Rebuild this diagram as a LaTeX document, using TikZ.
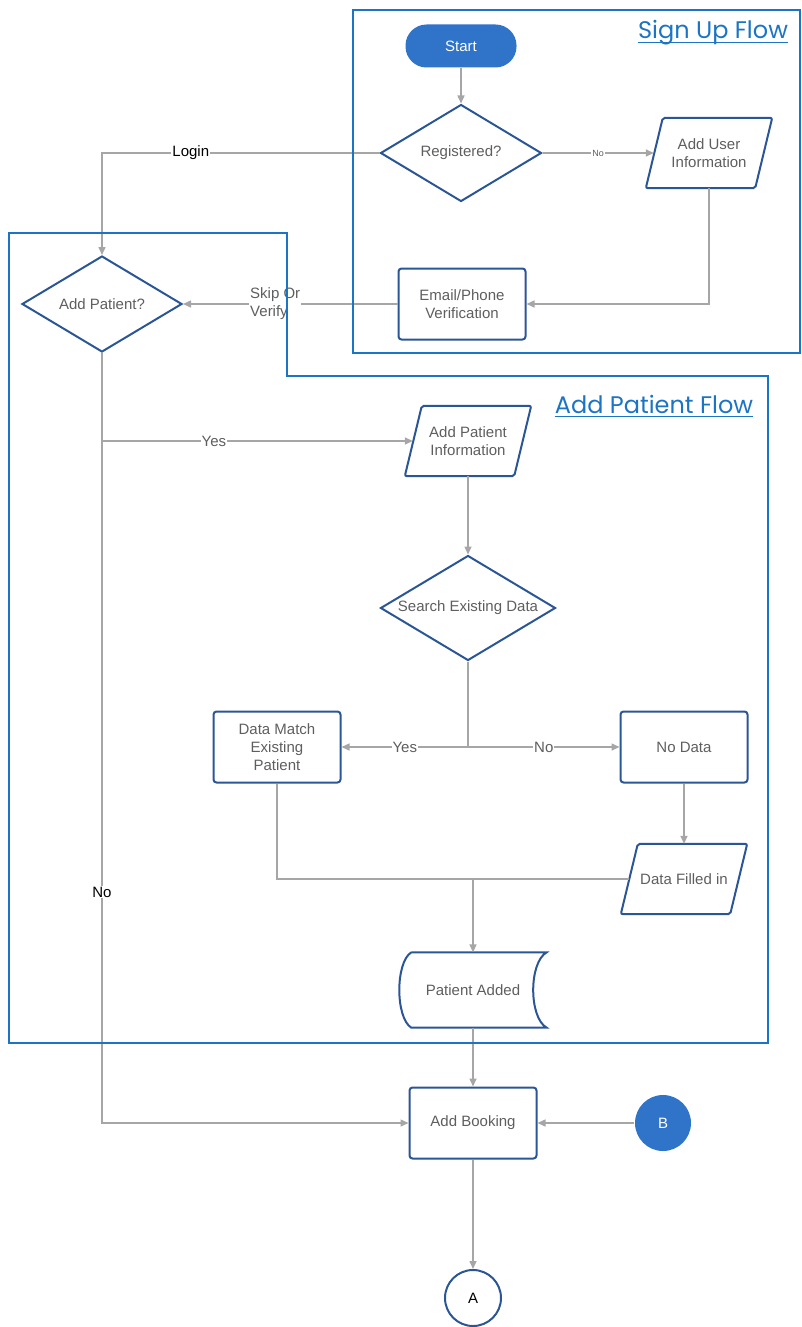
\documentclass[tikz,border=0pt]{standalone}
\usepackage{fontspec}
\setmainfont{Liberation Sans}
\newfontfamily\titlefont{Poppins}
\usetikzlibrary{shapes.geometric,arrows.meta}
\definecolor{nodeblue}{HTML}{2B5696}
\definecolor{frameblue}{HTML}{1C74C4}
\definecolor{startblue}{HTML}{2F74C9}
\definecolor{linegray}{HTML}{A6A6A6}
\definecolor{textgray}{HTML}{5E5E5E}

\begin{document}
\begin{tikzpicture}[x=1pt,y=-1pt,
    every node/.style={font=\fontsize{15}{18}\selectfont, text=textgray, align=center},
    box/.style={draw=nodeblue, line width=2pt, rounded corners=3pt,
      minimum width=127pt, minimum height=71pt, inner sep=2pt},
    decision/.style={diamond, aspect=1.66, draw=nodeblue, line width=2pt, inner sep=0pt},
    io/.style={minimum width=126pt, minimum height=70pt, inner sep=2pt,
      append after command={\pgfextra{\draw[nodeblue, line width=2pt, rounded corners=2pt]
        ([xshift=17pt]\tikzlastnode.north west) -- (\tikzlastnode.north east)
        -- ([xshift=-17pt]\tikzlastnode.south east) -- (\tikzlastnode.south west) -- cycle;}}},
    connector/.style={circle, minimum size=56pt, inner sep=0pt, line width=2pt},
    flow/.style={draw=linegray, line width=1.5pt, -{Triangle[length=8pt,width=7pt]}},
    plain/.style={draw=linegray, line width=1.5pt},
    lbl/.style={fill=white, inner sep=1pt},
    frame/.style={draw=frameblue, line width=2.5pt},
    title/.style={font=\titlefont\fontsize{24}{28}\selectfont, text=frameblue, inner sep=0pt, anchor=base}]
  \useasboundingbox (0,0) rectangle (802,1327);

  \node[fill=startblue, rounded corners=21pt, minimum width=111pt, minimum height=43pt,
    text=white] (start) at (461,46) {Start};
  \node[decision, minimum width=161pt, minimum height=97pt] (reg) at (461,153) {Registered?};
  \node[io] (userinfo) at (709,153) {Add User\\Information};
  \node[box] (verify) at (462,304) {Email/Phone\\Verification};
  \node[decision, minimum width=160pt, minimum height=96pt] (addq) at (102,304) {Add Patient?};
  \node[io] (patinfo) at (468,441) {Add Patient\\Information};
  \node[decision, minimum width=175pt, minimum height=105pt] (search) at (468,608) {Search Existing Data};
  \node[box] (match) at (277,747) {Data Match\\Existing\\Patient};
  \node[box] (nodata) at (684,747) {No Data};
  \node[io] (filled) at (684,879) {Data Filled in};
  \node[minimum width=147pt, minimum height=75pt] (added) at (473,990) {Patient Added};
  \node[box] (booking) at (473,1123) {Add Booking};
  \node[connector, fill=startblue, text=white] (B) at (663,1123) {B};
  \node[connector, draw=nodeblue, text=black] (A) at (473,1298) {A};

  \draw[nodeblue, line width=2pt] ([xshift=12pt]added.north west) -- (added.north east)
    .. controls +(-18,10) and +(-18,-10) .. (added.south east)
    -- ([xshift=12pt]added.south west)
    .. controls +(-16,-10) and +(-16,10) .. ([xshift=12pt]added.north west);

  \coordinate (yesfork) at (addq.south |- patinfo);
  \coordinate (searchfork) at (search.south |- match);
  \coordinate (merge) at (added.north |- filled);

  \begin{scope}
    \draw[flow] (start) -- (reg);
    \draw[flow] (reg.east) -- node[lbl, font=\fontsize{9}{10}\selectfont]{No} ([xshift=8pt]userinfo.west);
    \draw[flow] (userinfo.south) |- (verify.east);
    \draw[flow] (reg.west) -| node[lbl, pos=0.34, text=black]{Login} (addq.north);
    \draw[flow] (verify.west) -- node[lbl, pos=0.57, align=left]{Skip Or\\Verify} (addq.east);
    \draw[flow] (addq.south) |- node[lbl, pos=0.35, text=black]{No} (booking.west);
    \draw[flow] (yesfork) -- node[lbl, pos=0.36]{Yes} ([xshift=8pt]patinfo.west);
    \draw[flow] (patinfo) -- (search);
    \draw[plain] (search.south) -- (searchfork);
    \draw[flow] (searchfork) -- node[lbl]{Yes} (match.east);
    \draw[flow] (searchfork) -- node[lbl]{No} (nodata.west);
    \draw[flow] (nodata) -- (filled);
    \draw[plain] (match.south) |- (merge);
    \draw[plain] ([xshift=8pt]filled.west) -- (merge);
    \draw[flow] (merge) -- (added.north);
    \draw[flow] (added.south) -- (booking.north);
    \draw[flow] (B) -- (booking.east);
    \draw[flow] (booking) -- (A);
  \end{scope}

  \draw[frame] (353,10) rectangle (800,353);
  \draw[frame] (9,233) -- (287,233) -- (287,376) -- (768,376) -- (768,1043) -- (9,1043) -- cycle;

  \node[title] (signup) at (713,39) {Sign Up Flow};
  \draw[frameblue, line width=1pt] ([yshift=-3.5pt]signup.base west) -- ([yshift=-3.5pt]signup.base east);
  \node[title] (patflow) at (654,413) {Add Patient Flow};
  \draw[frameblue, line width=1pt] ([yshift=-3.5pt]patflow.base west) -- ([yshift=-3.5pt]patflow.base east);
\end{tikzpicture}
\end{document}
